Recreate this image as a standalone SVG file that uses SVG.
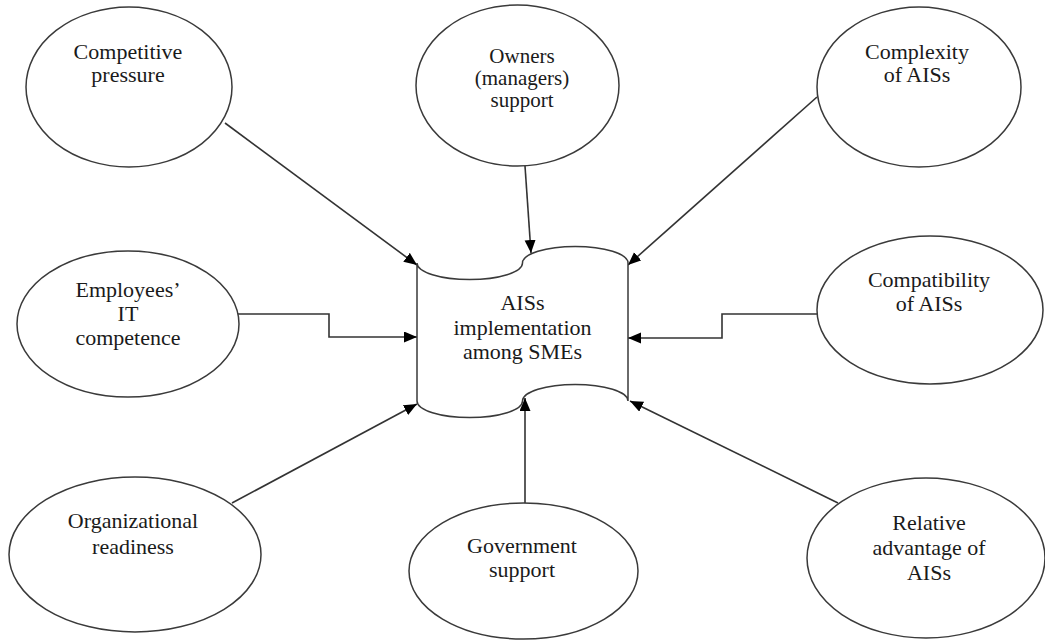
<svg xmlns="http://www.w3.org/2000/svg" width="1045" height="640" viewBox="0 0 1045 640">
<style>
.n{fill:#fff;stroke:#3a3a3a;stroke-width:1.5}
.t{font-family:"Liberation Serif","Times New Roman","DejaVu Serif",serif;font-size:22px;fill:#1a1a1a;text-anchor:middle}
.s{font-size:21px}
.c{fill:none;stroke:#333;stroke-width:1.6;marker-end:url(#ah)}
</style>
<defs>
<marker id="ah" markerUnits="userSpaceOnUse" markerWidth="14" markerHeight="12" refX="13" refY="5.5" orient="auto">
<path d="M0,0 L13,5.5 L0,11 Z" fill="#000"/>
</marker>
</defs>
<rect width="1045" height="640" fill="#fff"/>
<g id="connectors">
<line class="c" x1="225" y1="123" x2="417" y2="265"/>
<line class="c" x1="525" y1="166" x2="531" y2="253"/>
<line class="c" x1="817" y1="97" x2="628" y2="265"/>
<polyline class="c" points="238,314 329,314 329,337 417,337"/>
<polyline class="c" points="817,314 722,314 722,338 628,338"/>
<line class="c" x1="232" y1="503" x2="417" y2="404"/>
<line class="c" x1="525" y1="503" x2="525" y2="398"/>
<line class="c" x1="838" y1="503" x2="630" y2="401"/>
</g>
<g id="center">
<path class="n" d="M417,263 A52.5,16.5 0 0 0 522.5,263 A52.5,16.5 0 0 1 628,263 L628,401 A52.5,16.5 0 0 0 522.5,401 A52.5,16.5 0 0 1 417,401 Z"/>
<text class="t" x="522.5" y="310">AISs</text>
<text class="t" x="522.5" y="335">implementation</text>
<text class="t" x="522.5" y="359">among SMEs</text>
</g>
<g id="competitive">
<ellipse class="n" cx="129" cy="87" rx="103" ry="80"/>
<text class="t" x="128" y="59">Competitive</text>
<text class="t" x="128" y="82">pressure</text>
</g>
<g id="owners">
<ellipse class="n" cx="517.5" cy="85.5" rx="101.5" ry="80.5"/>
<text class="t s" x="522" y="63">Owners</text>
<text class="t s" x="522" y="85">(managers)</text>
<text class="t s" x="522" y="107">support</text>
</g>
<g id="complexity">
<ellipse class="n" cx="919" cy="87" rx="102" ry="80"/>
<text class="t" x="917" y="59">Complexity</text>
<text class="t" x="917" y="82">of AISs</text>
</g>
<g id="employees">
<ellipse class="n" cx="128" cy="324" rx="111" ry="73"/>
<text class="t" x="128" y="297">Employees’</text>
<text class="t" x="128" y="321">IT</text>
<text class="t" x="128" y="345">competence</text>
</g>
<g id="compatibility">
<ellipse class="n" cx="930" cy="310" rx="113" ry="74"/>
<text class="t" x="929" y="287">Compatibility</text>
<text class="t" x="929" y="311">of AISs</text>
</g>
<g id="organizational">
<ellipse class="n" cx="135" cy="554.5" rx="126" ry="77.5"/>
<text class="t" x="133" y="528">Organizational</text>
<text class="t" x="133" y="554">readiness</text>
</g>
<g id="government">
<ellipse class="n" cx="523.5" cy="571" rx="114.5" ry="68"/>
<text class="t" x="522" y="553">Government</text>
<text class="t" x="522" y="577">support</text>
</g>
<g id="relative">
<ellipse class="n" cx="926" cy="558" rx="119" ry="80"/>
<text class="t" x="929" y="530">Relative</text>
<text class="t" x="929" y="555">advantage of</text>
<text class="t" x="929" y="580">AISs</text>
</g>
</svg>
